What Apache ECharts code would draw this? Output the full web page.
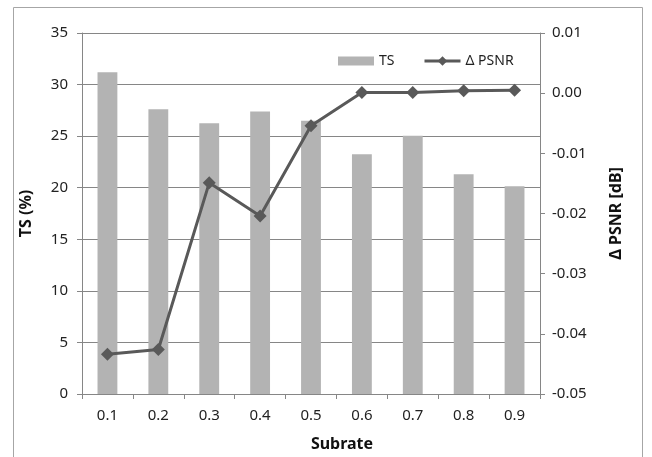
<!DOCTYPE html>
<html><head><meta charset="utf-8">
<script src="https://cdn.jsdelivr.net/npm/echarts@6/dist/echarts.min.js"></script>
<style>html,body{margin:0;padding:0;background:#fff}#c{width:652px;height:457px}</style>
</head><body><div id="c"></div>
<script>
const categories = ['0.1','0.2','0.3','0.4','0.5','0.6','0.7','0.8','0.9'];
const tsValues = [31.2, 27.6, 26.25, 27.4, 26.5, 23.25, 25.05, 21.3, 20.15];
const psnrValues = [-0.0434, -0.0426, -0.0149, -0.0204, -0.0054, 0.0001, 0.0001, 0.0004, 0.0005];
const FONT = '"Noto Sans", "DejaVu Sans", sans-serif';
const chart = echarts.init(document.getElementById('c'), null, {renderer:'canvas'});
chart.setOption({
  animation:false,
  backgroundColor:'#fff',
  textStyle:{fontFamily:FONT},
  graphic:[
    {type:'rect',shape:{x:13.5,y:7.5,width:629,height:460},style:{fill:'none',stroke:'#a6a6a6',lineWidth:1},z:-1},
    {type:'text',x:342,y:444,style:{text:'Subrate',fill:'#111',font:'bold 16px "Noto Sans", sans-serif',textAlign:'center',textVerticalAlign:'middle'}}
  ],
  legend:[{
    top:49, left:333, itemWidth:36, itemHeight:9, itemGap:4,
    textStyle:{fontFamily:FONT,fontSize:14,color:'#222'},
    data:[{name:'TS',icon:'rect'}]
  },{
    top:49, left:418, itemWidth:36, itemHeight:12, itemGap:4,
    textStyle:{fontFamily:FONT,fontSize:14,color:'#222'},
    lineStyle:{width:3,color:'#595959'},
    itemStyle:{color:'#595959'},
    data:[{name:'Δ PSNR'}]
  }],
  grid:{left:82,right:112,top:33,bottom:63},
  xAxis:{
    type:'category', data:categories,
    axisLine:{lineStyle:{color:'#868686',width:1}},
    axisTick:{show:true,length:5,lineStyle:{color:'#868686'}},
    axisLabel:{fontSize:15,color:'#222',margin:14,fontFamily:FONT}
  },
  yAxis:[{
    type:'value', min:0, max:35, interval:5, position:'left',
    axisLine:{show:true,lineStyle:{color:'#868686'}},
    axisTick:{show:true,length:5,lineStyle:{color:'#868686'}},
    splitLine:{show:true,lineStyle:{color:'#868686',width:1}},
    axisLabel:{fontSize:15,color:'#222',margin:14,fontFamily:FONT},
    name:'TS (%)', nameLocation:'middle', nameGap:48, nameRotate:90,
    nameTextStyle:{fontSize:16,fontWeight:'bold',color:'#111',fontFamily:FONT}
  },{
    type:'value', min:-0.05, max:0.01, interval:0.01, position:'right',
    axisLine:{show:true,lineStyle:{color:'#868686'}},
    axisTick:{show:true,length:5,lineStyle:{color:'#868686'}},
    splitLine:{show:false},
    axisLabel:{fontSize:15,color:'#222',margin:12,fontFamily:FONT,formatter:v=>(Math.abs(v)<1e-9?0:v).toFixed(2)},
    name:'Δ PSNR [dB]', nameLocation:'middle', nameGap:68, nameRotate:90,
    nameTextStyle:{fontSize:16,fontWeight:'bold',color:'#111',fontFamily:FONT}
  }],
  series:[{
    name:'TS', type:'bar', data:tsValues, yAxisIndex:0, barWidth:'39%',
    itemStyle:{color:'#b3b3b3'}
  },{
    name:'Δ PSNR', type:'line', data:psnrValues, yAxisIndex:1,
    symbol:'diamond', symbolSize:13,
    lineStyle:{color:'#595959',width:3}, itemStyle:{color:'#595959'}
  }]
});
</script></body></html>
